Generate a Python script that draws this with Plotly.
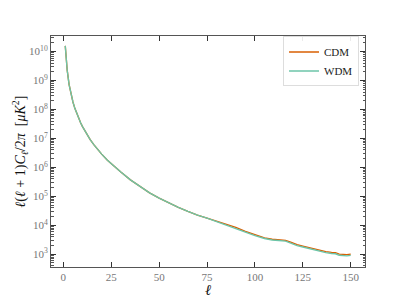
import plotly.graph_objects as go

ell = [1, 2, 3, 4, 5, 6, 7, 8, 9, 10, 11, 12, 14, 16, 18, 20, 23, 26, 30, 35,
       40, 45, 50, 55, 60, 65, 70, 75, 80, 85, 90, 95, 100, 105, 109, 113, 116,
       119, 122, 125, 128, 131, 134, 137, 140, 142, 144, 146, 148, 150]

cdm = [1.58e10, 2.29e9, 7.24e8, 3.31e8, 1.82e8, 1.10e8, 7.08e7, 4.90e7, 3.47e7,
       2.57e7, 1.95e7, 1.48e7, 9.12e6, 6.03e6, 4.07e6, 2.88e6, 1.78e6, 1.15e6,
       6.92e5, 3.72e5, 2.14e5, 1.32e5, 8.71e4, 5.89e4, 4.17e4, 3.02e4, 2.24e4,
       1.78e4, 1.39e4, 1.08e4, 8.45e3, 6.15e3, 4.65e3, 3.70e3, 3.30e3, 3.15e3,
       3.02e3, 2.57e3, 2.14e3, 1.91e3, 1.70e3, 1.52e3, 1.36e3, 1.24e3, 1.16e3,
       1.14e3, 1.01e3, 970, 970, 1.01e3]

wdm = [1.58e10, 2.29e9, 7.24e8, 3.31e8, 1.82e8, 1.10e8, 7.08e7, 4.90e7, 3.47e7,
       2.57e7, 1.95e7, 1.48e7, 9.12e6, 6.03e6, 4.07e6, 2.88e6, 1.78e6, 1.15e6,
       6.92e5, 3.72e5, 2.14e5, 1.32e5, 8.71e4, 5.89e4, 4.17e4, 3.02e4, 2.24e4,
       1.78e4, 1.36e4, 1.05e4, 8.10e3, 5.85e3, 4.42e3, 3.50e3, 3.12e3, 2.97e3,
       2.83e3, 2.40e3, 2.00e3, 1.78e3, 1.58e3, 1.41e3, 1.26e3, 1.14e3, 1.06e3,
       1.04e3, 925, 880, 880, 915]

x_ticks = [0, 25, 50, 75, 100, 125, 150]
y_exps = [3, 4, 5, 6, 7, 8, 9, 10]

FONT = "Liberation Serif"
AXC = "#555555"

fig = go.Figure()
fig.add_trace(go.Scatter(x=ell, y=cdm, mode="lines", name="CDM",
                         line=dict(color="#d95f02", width=1.35)))
fig.add_trace(go.Scatter(x=ell, y=wdm, mode="lines", name="WDM",
                         line=dict(color="#6cc5a8", width=1.35)))

# page body has an 8px default margin, so the figure is offset by 8px
fig.update_layout(
    width=399, height=297,
    margin=dict(l=43, r=42, t=28, b=38),
    paper_bgcolor="white", plot_bgcolor="white",
    font=dict(family=FONT, size=11, color="#222222"),
    legend=dict(x=0.981, y=0.998, xanchor="right", yanchor="top",
                bgcolor="rgba(255,255,255,0.9)", bordercolor="#dddddd",
                borderwidth=1, font=dict(family=FONT, size=11, color="#222222"),
                tracegroupgap=0, itemwidth=30),
    showlegend=True,
    annotations=[
        dict(text="<i>ℓ</i>(<i>ℓ</i> + 1)<i>C<sub>ℓ</sub></i>/2<i>π</i>  [<i>μK</i><sup>2</sup>]",
             xref="paper", yref="paper", x=-0.0987, y=0.5, textangle=-90,
             showarrow=False, xanchor="center", yanchor="middle",
             font=dict(family=FONT, size=14, color="#111111")),
        dict(text="<i>ℓ</i>", xref="paper", yref="paper", x=0.5, y=-0.0996,
             showarrow=False, xanchor="center", yanchor="middle",
             font=dict(family=FONT, size=15, color="#111111")),
    ],
)

fig.update_xaxes(
    range=[-6.45, 157.45], tickmode="array", tickvals=x_ticks,
    ticktext=[str(v) for v in x_ticks], automargin=False,
    ticks="inside", ticklen=5, tickwidth=1, tickcolor="#333333",
    showline=True, linecolor=AXC, linewidth=1, mirror="allticks",
    showgrid=False, zeroline=False,
    tickfont=dict(family=FONT, size=11, color="#777777"),
)

fig.update_yaxes(
    type="log", range=[2.56, 10.54], tickmode="array", automargin=False,
    tickvals=[10 ** e for e in y_exps],
    ticktext=["10<sup>%d</sup>" % e for e in y_exps],
    ticks="inside", ticklen=5, tickwidth=1, tickcolor="#333333",
    minor=dict(ticks="inside", ticklen=2.5, tickcolor="#555555", dtick="D1",
               showgrid=False),
    showline=True, linecolor=AXC, linewidth=1, mirror="allticks",
    showgrid=False, zeroline=False,
    tickfont=dict(family=FONT, size=11, color="#777777"),
)

fig.write_html("out.html")
